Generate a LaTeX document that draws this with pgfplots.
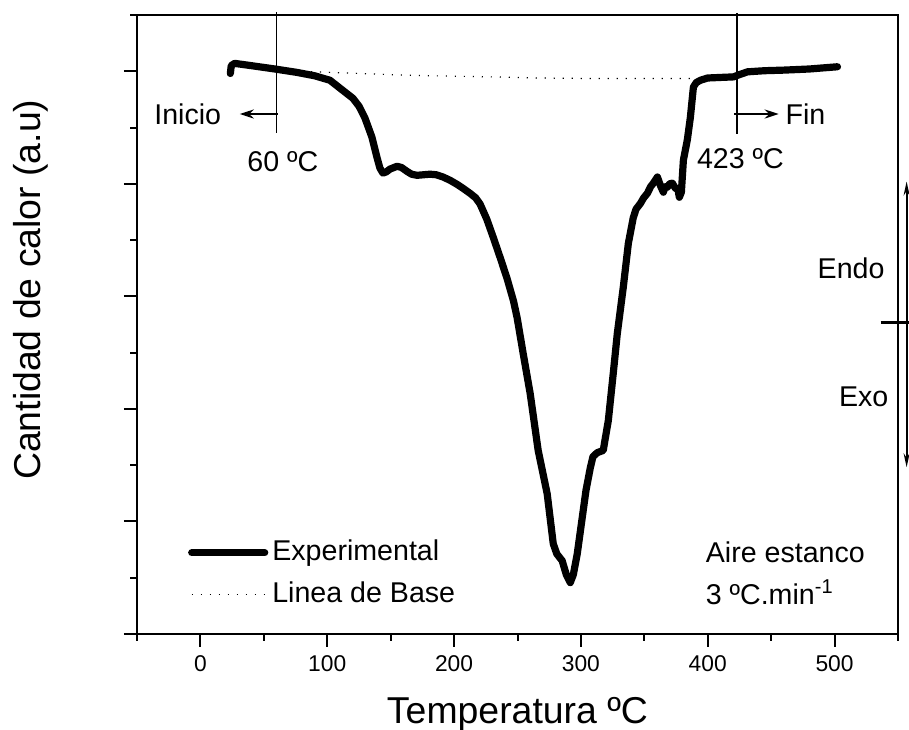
\documentclass[border=0pt]{standalone}
\usepackage{fontspec}
\setmainfont{Liberation Sans}
\usepackage{pgfplots}
\pgfplotsset{compat=1.18}
\usetikzlibrary{arrows.meta}

\pgfplotstableread{
x y
23.6 9.96
24.3 10.10
27 10.14
40 10.10
58.7 10.04
76 9.98
90 9.92
102.1 9.84
110 9.70
120.2 9.52
125 9.38
129.7 9.17
135.2 8.83
139.2 8.47
141.5 8.28
143.9 8.19
146.5 8.21
149.4 8.26
155 8.31
158.5 8.29
162.9 8.22
166.5 8.17
170.8 8.15
181 8.17
186 8.16
191.3 8.12
197 8.06
202.3 7.99
207 7.92
212.6 7.83
217 7.75
220.5 7.64
225.8 7.37
231.0 7.04
236.3 6.69
241.6 6.33
246.8 5.92
249.7 5.62
254.5 4.98
260 4.27
266.3 3.26
273.4 2.49
278.2 1.60
281 1.42
285.2 1.30
288.5 1.05
291.6 0.91
294 1.05
297.1 1.42
301.8 2.19
304 2.55
307.4 2.95
309.5 3.15
312.9 3.22
317.6 3.26
321.6 3.79
325.5 4.63
328.7 5.34
333.4 6.16
337.4 6.94
341.3 7.40
343.5 7.55
346.9 7.65
349.5 7.75
352.4 7.83
355 7.95
357.1 8.01
360.3 8.12
363 7.95
365 7.85
366.5 7.95
368.2 7.94
370 8.00
372.1 8.01
374.5 7.92
376.5 7.90
377.6 7.76
379.2 7.85
380.8 8.42
383.9 8.78
386.3 9.18
388.7 9.72
391 9.80
394.3 9.84
399.8 9.88
410 9.89
420.3 9.90
425 9.94
431.4 9.99
445 10.01
459.8 10.02
480 10.04
502.3 10.08
}\experimental

\pgfplotstableread{
x y
58.7 10.02
102 9.98
150 9.94
181 9.92
230 9.90
267 9.88
314 9.87
395 9.87
}\baseline

\begin{document}
\begin{tikzpicture}[annot/.style={font=\fontsize{14.3pt}{17pt}\selectfont}]
\useasboundingbox (-68.5pt,-47.6pt) rectangle (386pt,316.9pt);
\begin{axis}[
  at={(0pt,0pt)}, anchor=south west,
  scale only axis, width=380.5pt, height=309.4pt,
  xmin=-50, xmax=550, ymin=0, ymax=11,
  axis line style={line width=1pt},
  every tick/.style={line width=1pt, black},
  tick align=outside,
  xtick pos=bottom, ytick pos=left,
  xtick={0,100,...,500},
  minor xtick={-50,50,...,550},
  ytick={0,2,...,10},
  minor ytick={1,3,...,11},
  yticklabels={},
  major tick length=6.5pt,
  minor tick length=3.5pt,
  /pgf/number format/assume math mode=true,
  xticklabel style={font=\fontsize{11.4pt}{13pt}\selectfont, yshift=-1pt},
  xlabel={Temperatura ºC},
  ylabel={Cantidad de calor (a.u)},
  xlabel style={font=\fontsize{18.7pt}{22pt}\selectfont, at={(axis description cs:0.5,-0.1442)}, anchor=base},
  ylabel style={font=\fontsize{18.7pt}{22pt}\selectfont, at={(axis description cs:-0.1268,0.556)}, anchor=base},
  clip=false,
  legend style={at={(axis cs:-10,1.76)}, anchor=north west, draw=none, fill=none, inner sep=0pt,
    font=\fontsize{14.3pt}{17pt}\selectfont, row sep=3.5pt,
    nodes={inner sep=2pt, text height=10.5pt, text depth=3pt}},
  legend cell align=left,
  legend image code/.code={\draw[#1] (1.75pt,0pt) -- (38.25pt,0pt);},
]
\addplot[black, line width=3.6pt, line join=round, line cap=round] table[x=x,y=y] {\experimental};
\addlegendentry{Experimental}
\addplot[black, line width=0.6pt, dash pattern=on 0.6pt off 3.9pt] table[x=x,y=y] {\baseline};
\addlegendentry{Linea de Base}

% markers
\draw[line width=0.7pt] (axis cs:60,11.05) -- (axis cs:60,8.9);
\draw[line width=0.7pt] (axis cs:423,11.03) -- (axis cs:423,8.88);
\draw[line width=1.4pt, -{Stealth[length=7pt,width=4.5pt]}] (axis cs:61,9.24) -- (axis cs:31,9.24);
\draw[line width=1.4pt, -{Stealth[length=7pt,width=4.5pt]}] (axis cs:421,9.24) -- (axis cs:456,9.24);
\node[annot] at (axis cs:-10,9.24) {Inicio};
\node[annot] at (axis cs:65,8.40) {60 ºC};
\node[annot] at (axis cs:477,9.24) {Fin};
\node[annot] at (axis cs:425.8,8.44) {423 ºC};
\node[annot, anchor=west, inner sep=0pt] at (axis cs:398.2,1.45) {Aire estanco};
\node[annot, anchor=west, inner sep=0pt] at (axis cs:398.2,0.74) {3 ºC.min\textsuperscript{-1}};
\node[annot] at (axis cs:513,6.49) {Endo};
\node[annot] at (axis cs:523,4.21) {Exo};
\draw[line width=1pt, {Stealth[length=7pt,width=3pt]}-{Stealth[length=7pt,width=3pt]}] (axis cs:556.8,8.04) -- (axis cs:556.8,2.96);
\draw[line width=1.4pt] (axis cs:536.3,5.53) -- (axis cs:562,5.53);
\end{axis}
\end{tikzpicture}
\end{document}
